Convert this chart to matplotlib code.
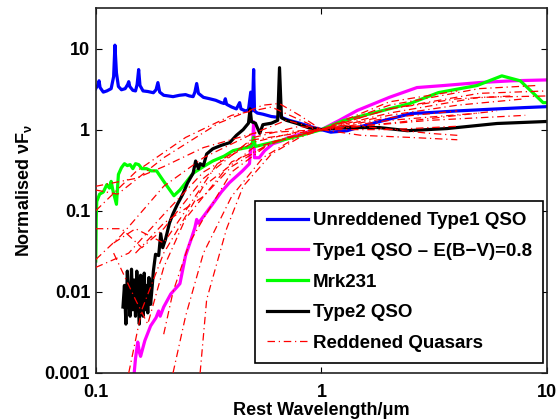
import numpy as np
import matplotlib
matplotlib.use("Agg")
import matplotlib.pyplot as plt

plt.rcParams['font.family'] = ['Liberation Sans', 'DejaVu Sans']
plt.rcParams['font.weight'] = 'bold'
plt.rcParams['mathtext.fontset'] = 'custom'
plt.rcParams['mathtext.rm'] = 'Liberation Sans:bold'
plt.rcParams['mathtext.default'] = 'rm'

# Unreddened Type1 QSO template
blue_wl = [0.100, 0.1025, 0.1034, 0.1045, 0.108, 0.112, 0.117, 0.120, 0.1216, 0.1235,
           0.126, 0.130, 0.135, 0.1385, 0.1400, 0.1415, 0.146, 0.150, 0.1525, 0.1549,
           0.157, 0.162, 0.170, 0.180, 0.185, 0.1885, 0.192, 0.200, 0.210, 0.220,
           0.235, 0.250, 0.260, 0.270, 0.275, 0.280, 0.285, 0.300, 0.320, 0.340,
           0.360, 0.370, 0.375, 0.380, 0.400, 0.420, 0.434, 0.440, 0.460, 0.475,
           0.4861, 0.492, 0.4959, 0.5007, 0.505, 0.52, 0.55, 0.60, 0.64, 0.656,
           0.67, 0.72, 0.80, 0.90, 1.00, 1.10, 1.30, 1.60, 2.00, 2.50,
           3.00, 4.00, 6.00, 8.00, 10.0]
blue_f = [3.2, 3.6, 4.0, 3.3, 2.9, 3.0, 3.2, 4.5, 11.0, 5.0,
          3.4, 3.1, 3.2, 3.6, 3.9, 3.4, 3.05, 3.0, 3.6, 5.5,
          3.5, 3.0, 2.95, 2.85, 3.1, 3.8, 2.9, 2.65, 2.6, 2.55,
          2.65, 2.7, 2.6, 2.55, 2.9, 3.7, 2.8, 2.5, 2.4, 2.3,
          2.15, 2.1, 2.4, 2.05, 1.9, 1.8, 2.15, 1.8, 1.7, 1.75,
          2.9, 1.7, 2.2, 5.5, 1.7, 1.6, 1.55, 1.45, 1.42, 1.6,
          1.4, 1.3, 1.2, 1.08, 1.0, 0.93, 0.97, 1.15, 1.35, 1.58,
          1.62, 1.70, 1.80, 1.87, 1.92]

# Type1 QSO reddened by E(B-V)=0.8
mag_wl = [0.148, 0.150, 0.1535, 0.156, 0.158, 0.165, 0.175, 0.185, 0.190, 0.193,
          0.200, 0.215, 0.236, 0.250, 0.265, 0.275, 0.280, 0.285, 0.300, 0.329,
          0.36, 0.39, 0.447, 0.48, 0.486, 0.4959, 0.5007, 0.505, 0.53, 0.56,
          0.61, 0.66, 0.70, 0.77, 0.85, 1.00, 1.20, 1.44, 2.00, 2.65,
          3.50, 5.00, 7.00, 10.0]
mag_f = [0.001, 0.0015, 0.0024, 0.0018, 0.0016, 0.0025, 0.0038, 0.0048, 0.0058, 0.005,
         0.0065, 0.0094, 0.0126, 0.028, 0.045, 0.062, 0.078, 0.07, 0.085, 0.12,
         0.17, 0.22, 0.31, 0.38, 0.6, 0.7, 1.25, 0.45, 0.45, 0.55,
         0.67, 0.72, 0.78, 0.85, 0.92, 1.0, 1.3, 1.72, 2.5, 3.3,
         3.5, 3.8, 4.0, 4.1]

# Mrk231
grn_wl = [0.1000, 0.1005, 0.101, 0.104, 0.108, 0.112, 0.115, 0.117, 0.119, 0.1235,
          0.126, 0.130, 0.134, 0.138, 0.142, 0.146, 0.150, 0.155, 0.160, 0.168,
          0.176, 0.186, 0.198, 0.210, 0.222, 0.236, 0.25, 0.27, 0.30, 0.33,
          0.37, 0.406, 0.44, 0.466, 0.49, 0.50, 0.51, 0.56, 0.657, 0.80,
          1.0, 1.25, 1.87, 2.47, 3.3, 4.9, 6.3, 7.6, 8.7, 9.6, 10.0]
grn_f = [0.024, 0.08, 0.13, 0.16, 0.17, 0.21, 0.19, 0.23, 0.18, 0.12,
         0.28, 0.34, 0.38, 0.36, 0.37, 0.33, 0.38, 0.37, 0.33, 0.33,
         0.31, 0.31, 0.24, 0.19, 0.153, 0.18, 0.22, 0.29, 0.35, 0.41,
         0.47, 0.55, 0.58, 0.6, 0.62, 0.8, 0.62, 0.66, 0.73, 0.84,
         1.0, 1.29, 1.72, 2.1, 2.86, 3.5, 4.6, 4.0, 2.8, 2.15, 2.15]

# Type2 QSO
blk_wl = [0.132, 0.134, 0.136, 0.138, 0.140, 0.142, 0.144, 0.146, 0.148, 0.150,
          0.152, 0.154, 0.156, 0.158, 0.160, 0.162, 0.164, 0.166, 0.168, 0.170,
          0.172, 0.175, 0.178, 0.180, 0.184, 0.190, 0.194, 0.198, 0.204, 0.212,
          0.220, 0.230, 0.243, 0.255, 0.270, 0.277, 0.285, 0.290, 0.300, 0.310,
          0.33, 0.36, 0.392, 0.42, 0.45, 0.475, 0.483, 0.49, 0.51, 0.533,
          0.55, 0.60, 0.64, 0.652, 0.665, 0.70, 0.78, 0.88, 1.0, 1.12,
          1.3, 1.8, 2.4, 3.6, 6.0, 10.0]
blk_f = [0.0065, 0.012, 0.004, 0.018, 0.008, 0.005, 0.019, 0.006, 0.014, 0.005,
         0.018, 0.009, 0.004, 0.016, 0.007, 0.005, 0.017, 0.006, 0.012, 0.0055,
         0.015, 0.007, 0.012, 0.018, 0.029, 0.028, 0.052, 0.035, 0.045, 0.07,
         0.092, 0.12, 0.16, 0.22, 0.29, 0.41, 0.33, 0.38, 0.36, 0.5,
         0.58, 0.64, 0.69, 0.85, 1.0, 1.2, 1.8, 1.25, 1.2, 0.9,
         1.15, 1.2, 1.3, 5.8, 1.4, 1.3, 1.19, 1.05, 1.0, 1.03,
         1.06, 1.06, 0.97, 1.03, 1.19, 1.26]

# Reddened quasars (each normalised to 1 at 1 micron)
red_wl = [
    [0.1, 0.125, 0.2, 0.35, 0.55, 0.65, 0.8, 1.0, 1.5, 2.5, 4.0],
    [0.1, 0.13, 0.2, 0.3, 0.5, 0.7, 1.0, 2.0, 4.0, 8.0],
    [0.1, 0.14, 0.2, 0.3, 0.5, 0.8, 1.0, 2.0, 5.0, 10.0],
    [0.1, 0.13, 0.16, 0.2, 0.3, 0.5, 0.8, 1.0, 2.0, 5.0],
    [0.14, 0.16, 0.2, 0.3, 0.5, 1.0, 2.0, 4.0],
    [0.29, 0.31, 0.34, 0.38, 0.45, 0.6, 0.8, 1.0, 2.0, 5.0, 9.0],
    [0.1, 0.15, 0.2, 0.3, 0.5, 1.0, 2.0, 5.0, 10.0],
    [0.12, 0.15, 0.17, 0.2, 0.25, 0.4, 0.7, 1.0, 3.0, 8.0],
    [0.2, 0.22, 0.26, 0.3, 0.4, 0.6, 1.0, 2.0, 6.0],
    [0.1, 0.15, 0.25, 0.4, 0.6, 1.0, 2.0, 4.0],
    [0.12, 0.15, 0.2, 0.25, 0.35, 0.5, 1.0, 2.0, 4.0],
    [0.15, 0.2, 0.3, 0.4, 0.6, 1.0, 1.5, 3.0, 4.0],
    [0.22, 0.25, 0.3, 0.4, 0.55, 0.8, 1.0, 2.0, 4.0, 7.0],
]
red_f = [
    [0.18, 0.16, 0.45, 1.2, 2.0, 2.1, 1.5, 1.0, 0.85, 0.8, 0.75],
    [0.025, 0.05, 0.2, 0.45, 0.9, 1.3, 1.0, 1.5, 2.0, 2.4],
    [0.02, 0.03, 0.09, 0.3, 0.7, 0.95, 1.0, 1.8, 2.8, 3.0],
    [0.06, 0.06, 0.035, 0.06, 0.25, 0.8, 1.1, 1.0, 1.3, 1.6],
    [0.001, 0.006, 0.03, 0.2, 0.6, 1.0, 1.4, 1.7],
    [0.001, 0.008, 0.02, 0.06, 0.2, 0.5, 0.8, 1.0, 2.0, 3.2, 3.5],
    [0.2, 0.25, 0.35, 0.6, 0.9, 1.0, 1.6, 2.5, 2.6],
    [0.03, 0.008, 0.004, 0.02, 0.08, 0.4, 0.8, 1.0, 1.3, 1.5],
    [0.003, 0.01, 0.04, 0.08, 0.3, 0.7, 1.0, 1.2, 1.7],
    [0.1, 0.3, 0.8, 1.5, 1.9, 1.0, 1.0, 1.1],
    [0.04, 0.06, 0.04, 0.1, 0.4, 0.75, 1.0, 2.2, 3.0],
    [0.03, 0.07, 0.15, 0.35, 0.7, 1.0, 1.1, 0.9, 0.85],
    [0.001, 0.005, 0.03, 0.15, 0.45, 0.85, 1.0, 1.8, 2.4, 2.6],
]

fig = plt.figure(figsize=(5.6, 4.19), dpi=100)
ax = fig.add_axes([0.171, 0.110, 0.806, 0.871])

ax.plot(blue_wl, blue_f, color='#0000ff', lw=2.3, label='Unreddened Type1 QSO')
ax.plot(mag_wl, mag_f, color='#ff00ff', lw=2.3, label='Type1 QSO \u2013 E(B\u2212V)=0.8')
ax.plot(grn_wl, grn_f, color='#00ff00', lw=2.3, label='Mrk231')
ax.plot(blk_wl, blk_f, color='black', lw=2.3, label='Type2 QSO')
for i, (w, f) in enumerate(zip(red_wl, red_f)):
    ax.plot(w, f, color='red', lw=0.9, linestyle=(0, (6, 3, 1, 3)),
            label='Reddened Quasars' if i == 0 else None, zorder=3)

ax.set_xscale('log')
ax.set_yscale('log')
ax.set_xlim(0.1, 10)
ax.set_ylim(0.001, 10 ** 1.5)
ax.set_xticks([0.1, 1, 10])
ax.set_xticklabels(['0.1', '1', '10'])
ax.set_yticks([0.001, 0.01, 0.1, 1, 10])
ax.set_yticklabels(['0.001', '0.01', '0.1', '1', '10'])
ax.minorticks_off()
ax.tick_params(direction='in', top=True, right=True, labelsize=13, length=4, width=0.8)
ax.tick_params(axis='x', pad=8)
ax.tick_params(axis='y', pad=4)
for s in ax.spines.values():
    s.set_linewidth(1.2)
    s.set_color('#222222')

ax.set_xlabel('Rest Wavelength/\u03bcm', fontsize=13, fontweight='bold', labelpad=1)
ax.set_ylabel('Normalised \u03bdF$_{\u03bd}$', fontsize=13, fontweight='bold', labelpad=8)

leg = ax.legend(loc='lower right', bbox_to_anchor=(0.991, 0.027), borderaxespad=0,
                fontsize=13.5, fancybox=False, framealpha=1, edgecolor='black',
                handlelength=2.2, handletextpad=0.25, labelspacing=0.72,
                borderpad=0.6)
leg.get_frame().set_linewidth(1.2)

fig.savefig('out.png', dpi=100)
